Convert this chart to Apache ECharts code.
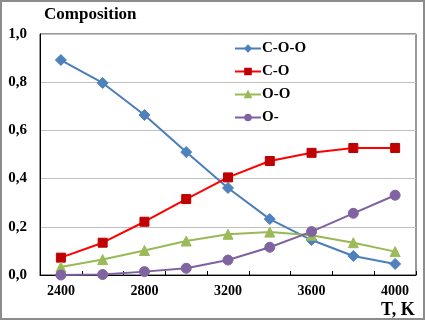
<!DOCTYPE html>
<html><head><meta charset="utf-8">
<script src="https://cdn.jsdelivr.net/npm/echarts@6/dist/echarts.min.js"></script>
<style>html,body{margin:0;padding:0;background:#fff}#c{width:425px;height:320px}</style>
</head><body><div id="c"></div>
<script>
const categories = ['2400','2600','2800','3000','3200','3400','3600','3800','4000'];
const cooValues = [0.892, 0.797, 0.664, 0.510, 0.361, 0.232, 0.145, 0.079, 0.046];
const coValues  = [0.072, 0.134, 0.221, 0.315, 0.405, 0.473, 0.507, 0.527, 0.527];
const ooValues  = [0.033, 0.064, 0.102, 0.141, 0.169, 0.178, 0.165, 0.134, 0.097];
const oValues   = [0.000, 0.002, 0.014, 0.028, 0.062, 0.115, 0.180, 0.256, 0.331];
const seriesNames = ['C-O-O','C-O','O-O','O-'];

const font = 'Liberation Serif, Times New Roman, serif';
const chart = echarts.init(document.getElementById('c'), null, {renderer:'canvas'});

function mk(name, data, lineColor, markColor, symbol, size){
  return {name, type:'line', data, symbol, symbolSize:size, showSymbol:true,
    lineStyle:{color:lineColor, width:2},
    itemStyle:{color:markColor, borderColor:markColor, borderWidth:1},
    emphasis:{disabled:true}, animation:false};
}

chart.setOption({
  animation:false,
  backgroundColor:'#fff',
  grid:{left:40, top:34, right:9, bottom:45, show:true, borderColor:'#333', borderWidth:1},
  graphic:[
    {type:'rect', shape:{x:1, y:1, width:423, height:318}, style:{fill:'none', stroke:'#8c8c8c', lineWidth:2}, silent:true},
    {type:'text', left:44, top:6, style:{text:'Composition', font:'bold 17px '+font, fill:'#000'}},
    {type:'text', left:381, top:301, style:{text:'T, K', font:'bold 18px '+font, fill:'#000'}}
  ],
  legend:{orient:'vertical', left:234, top:41, padding:0, itemWidth:26, itemHeight:7, itemGap:8,
    data:seriesNames,
    textStyle:{fontFamily:font, fontWeight:'bold', fontSize:15, color:'#000', padding:[0,0,0,-4]}},
  xAxis:{type:'category', data:categories, boundaryGap:true,
    axisLine:{lineStyle:{color:'#000', width:1}},
    axisTick:{show:true, inside:true, length:4, interval:0, lineStyle:{color:'#000'}},
    axisLabel:{interval:1, margin:9, fontFamily:font, fontWeight:'bold', fontSize:14, color:'#000'},
    splitLine:{show:false}},
  yAxis:{type:'value', min:0, max:1, interval:0.2,
    axisLine:{show:true, lineStyle:{color:'#000', width:1}},
    axisTick:{show:false},
    axisLabel:{margin:13, fontFamily:font, fontWeight:'bold', fontSize:15, color:'#000',
      formatter:v=>v.toFixed(1).replace('.',',')},
    splitLine:{show:true, lineStyle:{color:'#c0c0c0', width:1}}},
  series:[
    mk(seriesNames[0], cooValues, '#4A7EBB', '#4F81BD', 'diamond', 11),
    mk(seriesNames[1], coValues, '#FF0000', '#C00000', 'rect', 9),
    mk(seriesNames[2], ooValues, '#98B954', '#9BBB59', 'triangle', 10),
    mk(seriesNames[3], oValues, '#7D60A0', '#8064A2', 'circle', 10)
  ]
});
</script></body></html>
